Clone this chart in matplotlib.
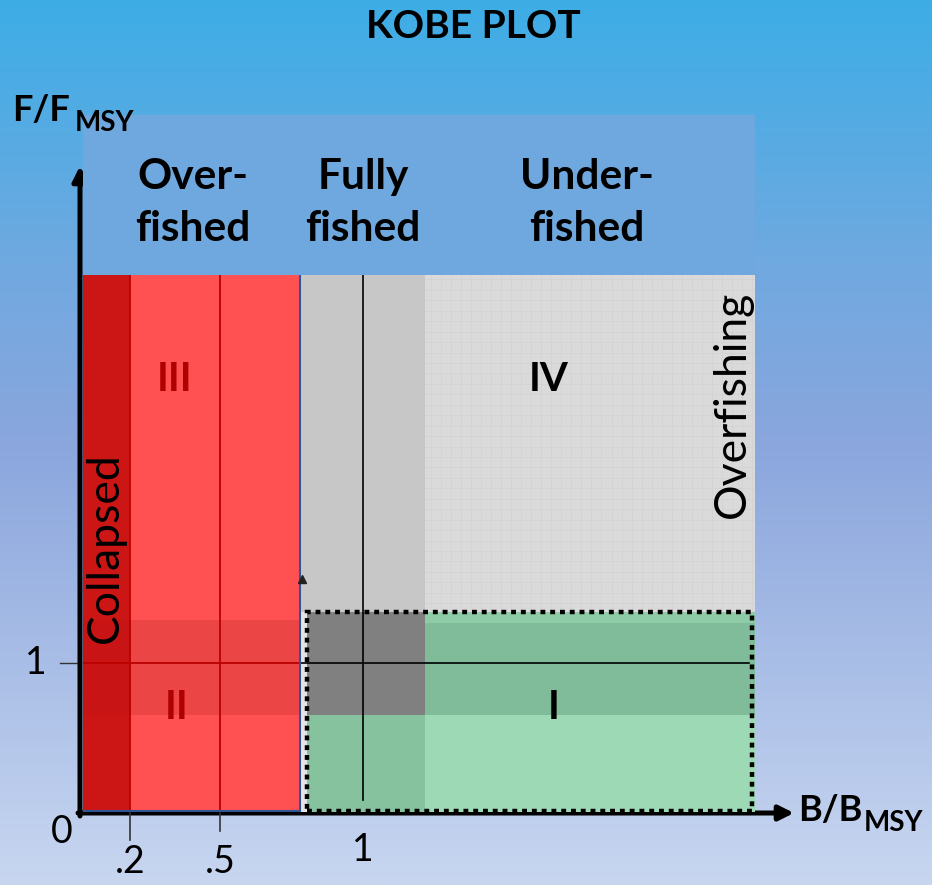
import numpy as np
import matplotlib
matplotlib.use("Agg")
import matplotlib.pyplot as plt
from matplotlib.patches import Rectangle
from matplotlib.colors import to_rgb

plt.rcParams["font.family"] = ["Lato", "DejaVu Sans"]

# ---- chart content ----
TITLE = "KOBE PLOT"
zone_labels = ["Over-\nfished", "Fully\nfished", "Under-\nfished"]
zone_label_x = [0.41, 1.0, 1.765]          # B/BMSY where header labels sit
zone_lo = [0.0, 0.2, 0.8, 1.2]             # collapsed / over / fully / under
zone_hi = [0.2, 0.8, 1.2, 2.35]
F_MAX = 3.6                                # top of the plotted F/FMSY range
F_BAND = (0.65, 1.34)                      # darker band around F = FMSY
GREEN_TOP = 1.34                           # upper edge of the green (quadrant I) box
GREEN_LEFT = 0.822
B_REF, F_REF = 1.0, 1.0
xtick_vals = [0.2, 0.5, 1.0]
xtick_txt = [".2", ".5", "1"]
quad_txt = ["III", "II", "IV", "I"]
quad_x = [0.35, 0.356, 1.63, 1.65]
quad_y = [2.9, 0.70, 2.9, 0.70]
quad_col = ["#B00000", "#B00000", "black", "black"]

# piecewise B/BMSY -> screen mapping (the original axis is schematic, not linear)
B_ANCH = np.array([-1.0, 0.0, 0.2, 0.5, 0.8, 1.0, 1.2, 2.35, 4.0])
P_ANCH = np.array([-152, 83, 130, 220, 300, 363, 425, 755, 1228], float)


def fwd(x):
    return np.interp(x, B_ANCH, P_ANCH)


def inv(p):
    return np.interp(p, P_ANCH, B_ANCH)


W, H = 932, 885
fig = plt.figure(figsize=(W / 100, H / 100), dpi=100)

# background gradient
bg = fig.add_axes([0, 0, 1, 1])
stops_y = [0.0, 0.30, 0.50, 1.0]
stops_c = ["#3DADE6", "#70A9E0", "#8AA6DD", "#C8D6F0"]
yy = np.linspace(0, 1, 400)
rgb = np.array([to_rgb(c) for c in stops_c])
grad = np.stack([np.interp(yy, stops_y, rgb[:, k]) for k in range(3)], axis=1)[:, None, :]
bg.imshow(grad, aspect="auto", extent=[0, W, H, 0])
bg.set_xlim(0, W); bg.set_ylim(H, 0); bg.axis("off")
px = bg.transData   # figure pixel coords (y down) for decorations

# main axes over the plotted area
ax = fig.add_axes([83 / W, (H - 812) / H, (755 - 83) / W, (812 - 275) / H])
ax.set_xscale("function", functions=(fwd, inv))
ax.set_xlim(0, 2.35); ax.set_ylim(0, F_MAX)
ax.patch.set_alpha(0); ax.axis("off")

# header band
ax.add_patch(Rectangle((0, F_MAX), 2.35, 1.07, fc="#6FA8DE", ec="none", clip_on=False, zorder=1))

# red zones
ax.add_patch(Rectangle((zone_lo[0], 0), zone_hi[0] - zone_lo[0], F_MAX, fc="#CC1616", ec="none", zorder=2))
ax.add_patch(Rectangle((zone_lo[1], 0), zone_hi[1] - zone_lo[1], F_MAX, fc="#FF5151", ec="none", zorder=2))
ax.add_patch(Rectangle((zone_lo[1], F_BAND[0]), zone_hi[1] - zone_lo[1], F_BAND[1] - F_BAND[0] - 0.05,
                       fc="#EC4545", ec="none", zorder=2))
ax.add_patch(Rectangle((zone_lo[0], F_BAND[0]), zone_hi[0] - zone_lo[0], F_BAND[1] - F_BAND[0] - 0.05,
                       fc="#C81414", ec="none", zorder=2))
# grey zones
ax.add_patch(Rectangle((zone_lo[2], 0), zone_hi[2] - zone_lo[2], F_MAX, fc="#C7C7C7", ec="none", zorder=2))
ax.add_patch(Rectangle((zone_lo[2], 0), GREEN_LEFT - zone_lo[2], GREEN_TOP, fc="#E4E4E4", ec="none", zorder=2))
ax.add_patch(Rectangle((zone_lo[3], 0), zone_hi[3] - zone_lo[3], F_MAX, fc="#DADADA", ec="none", zorder=2))
for gx in np.arange(1.22, 2.35, 0.035):
    ax.plot([gx, gx], [GREEN_TOP, F_MAX], color="#D2D2D2", lw=0.5, zorder=2)
for gy in np.arange(GREEN_TOP + 0.06, F_MAX, 0.07):
    ax.plot([zone_lo[3], zone_hi[3]], [gy, gy], color="#D2D2D2", lw=0.5, zorder=2)

# green (quadrant I) area
ax.add_patch(Rectangle((GREEN_LEFT, 0), zone_hi[2] - GREEN_LEFT, F_BAND[0], fc="#86C29E", ec="none", zorder=3))
ax.add_patch(Rectangle((zone_lo[3], 0), zone_hi[3] - zone_lo[3], F_BAND[0], fc="#9ED9B6", ec="none", zorder=3))
ax.add_patch(Rectangle((zone_lo[3], F_BAND[0]), zone_hi[3] - zone_lo[3], F_BAND[1] - F_BAND[0],
                       fc="#80BC99", ec="none", zorder=3))
ax.add_patch(Rectangle((zone_lo[3], F_BAND[1] - 0.07), zone_hi[3] - zone_lo[3], 0.07,
                       fc="#8ECCA8", ec="none", zorder=3))
ax.add_patch(Rectangle((GREEN_LEFT, F_BAND[0]), zone_hi[2] - GREEN_LEFT, F_BAND[1] - F_BAND[0],
                       fc="#808080", ec="none", zorder=3))

# reference lines
ax.plot([zone_lo[0], zone_hi[1]], [F_REF, F_REF], color="#BB0000", lw=1.3, zorder=4)
for xv in (0.2, 0.5):
    ax.plot([xv, xv], [0, F_MAX], color="#BB0000", lw=1.3, zorder=4)
ax.plot([B_REF, B_REF], [0.08, F_MAX], color="black", lw=1.2, zorder=4)
ax.plot([zone_lo[2], 2.33], [F_REF, F_REF], color="black", lw=1.2, zorder=4)
ax.plot([zone_hi[1], zone_hi[1]], [0.01, F_MAX], color="#2F5597", lw=1.5, zorder=4)
ax.plot([0, zone_hi[1]], [0.01, 0.01], color="#2F5597", lw=1.5, zorder=4)
ax.plot(0.806, 1.56, marker="^", ms=6, color="#222222", zorder=5)

# dotted border round quadrant I
ax.add_patch(Rectangle((GREEN_LEFT, 0.01), 2.34 - GREEN_LEFT, GREEN_TOP - 0.01, fill=False,
                       ec="black", lw=3.2, ls=(0, (1.1, 1.1)), zorder=6))

# texts in the plot
for t, x, y, c in zip(quad_txt, quad_x, quad_y, quad_col):
    ax.text(x, y, t, color=c, fontsize=29, fontweight="bold", ha="center", va="center", zorder=7)
for t, x in zip(zone_labels, zone_label_x):
    ax.text(x, 4.08, t, fontsize=30.5, fontweight="bold", ha="center", va="center",
            linespacing=1.45, zorder=7, clip_on=False)
ax.text(0.094, 1.77, "Collapsed", rotation=90, fontsize=32, ha="center", va="center", zorder=7)
ax.text(2.27, 2.73, "Overfishing", rotation=90, fontsize=32, ha="center", va="center", zorder=7)

# x tick labels and marks
for v, t in zip(xtick_vals, xtick_txt):
    yl = -0.255 if v == 1.0 else -0.335
    ax.text(v, yl, t, fontsize=27, ha="center", va="center", clip_on=False)
for v, ln in zip(xtick_vals[:2], [0.19, 0.13]):
    ax.plot([v, v], [-0.01, -ln], color="#333333", lw=1.2, clip_on=False)

# axes arrows, y tick, labels (figure pixel coords)
bg.annotate("", xy=(80, 166), xytext=(80, 816),
            arrowprops=dict(arrowstyle="-|>", lw=3.6, color="black", mutation_scale=22, shrinkA=0, shrinkB=0))
bg.annotate("", xy=(794, 813), xytext=(78, 813),
            arrowprops=dict(arrowstyle="-|>", lw=3.6, color="black", mutation_scale=22, shrinkA=0, shrinkB=0))
bg.plot([60, 80], [663, 663], color="#333333", lw=1)
bg.text(36, 663, "1", fontsize=27, ha="center", va="center")
bg.text(62, 832, "0", fontsize=27, ha="center", va="center")
fig.text(473, 27, TITLE, transform=px, fontsize=28, fontweight="bold", ha="center", va="center")
fig.text(12, 121, "F/F", transform=px, fontsize=26, fontweight="bold", ha="left", va="baseline")
fig.text(75, 131, "MSY", transform=px, fontsize=20, fontweight="bold", ha="left", va="baseline")
fig.text(798, 821, "B/B", transform=px, fontsize=26, fontweight="bold", ha="left", va="baseline")
fig.text(864, 831, "MSY", transform=px, fontsize=20, fontweight="bold", ha="left", va="baseline")

fig.savefig("out.png", dpi=100)
